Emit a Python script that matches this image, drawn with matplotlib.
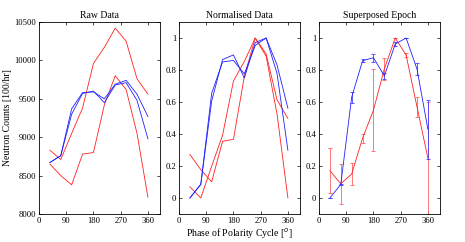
import numpy as np
import matplotlib
matplotlib.use("Agg")
import matplotlib.pyplot as plt

plt.rcParams["font.family"] = ["Liberation Serif", "DejaVu Serif"]

# phase of polarity cycle (degrees)
phase = [36, 72, 108, 144, 180, 216, 252, 288, 324, 360]

# raw neutron counts
red_a = [8830, 8710, 9050, 9380, 9960, 10170, 10420, 10250, 9760, 9560]
red_b = [8650, 8500, 8380, 8780, 8800, 9420, 9800, 9620, 9050, 8220]
blue_a = [8670, 8760, 9370, 9580, 9590, 9500, 9690, 9740, 9560, 9270]
blue_b = [8670, 8760, 9300, 9570, 9600, 9450, 9680, 9710, 9480, 8980]

xticks = [0, 90, 180, 270, 360]
raw_yticks = [8000, 8500, 9000, 9500, 10000, 10500]
norm_yticks = [0, 0.2, 0.4, 0.6, 0.8, 1]
norm_ylabels = ["0", "0.2", "0.4", "0.6", "0.8", "1"]


def normalise(s):
    s = np.array(s, dtype=float)
    return (s - s.min()) / (s.max() - s.min())


reds = [normalise(red_a), normalise(red_b)]
blues = [normalise(blue_a), normalise(blue_b)]

fig = plt.figure(figsize=(4.65, 2.42), dpi=100)
W, H = 465.0, 242.0
axes = []
for left in [39, 179, 319]:
    ax = fig.add_axes([left / W, (H - 214) / H, 121 / W, 192 / H])
    axes.append(ax)

lw = 0.6
red = "#ff2020"
blue = "#2020ff"
ax1, ax2, ax3 = axes

ax1.plot(phase, red_a, color=red, lw=lw)
ax1.plot(phase, red_b, color=red, lw=lw)
ax1.plot(phase, blue_a, color=blue, lw=lw)
ax1.plot(phase, blue_b, color=blue, lw=lw)
ax1.set_ylim(8000, 10500)
ax1.set_yticks(raw_yticks)
ax1.set_title("Raw Data", fontsize=7, pad=3)
ax1.set_ylabel("Neutron Counts [100/hr]", fontsize=7, labelpad=2)

for s in reds:
    ax2.plot(phase, s, color=red, lw=lw)
for s in blues:
    ax2.plot(phase, s, color=blue, lw=lw)
ax2.set_title("Normalised Data", fontsize=7, pad=3)
ax2.set_xlabel("Phase of Polarity Cycle [$^o$]", fontsize=7, labelpad=1)

red_mean = np.mean(reds, axis=0)
red_std = np.std(reds, axis=0, ddof=1)
blue_mean = np.mean(blues, axis=0)
blue_std = np.std(blues, axis=0, ddof=1)
ax3.errorbar(phase, red_mean, yerr=red_std, color=red, ecolor="#ff6060", lw=lw,
             elinewidth=0.6, capsize=1.2, capthick=0.6)
ax3.errorbar(phase, blue_mean, yerr=blue_std, color=blue, ecolor="#4040ff", lw=lw,
             elinewidth=0.6, capsize=1.2, capthick=0.6)
ax3.set_title("Superposed Epoch", fontsize=7, pad=3)

for ax in (ax2, ax3):
    ax.set_ylim(-0.1, 1.1)
    ax.set_yticks(norm_yticks)
    ax.set_yticklabels(norm_ylabels)

for ax in axes:
    ax.set_xlim(0, 400)
    ax.set_xticks(xticks)
    ax.tick_params(direction="in", length=2, width=0.5, labelsize=6.2,
                   top=True, right=True, pad=2)
    for sp in ax.spines.values():
        sp.set_linewidth(0.6)

fig.savefig("out.png", dpi=100)
